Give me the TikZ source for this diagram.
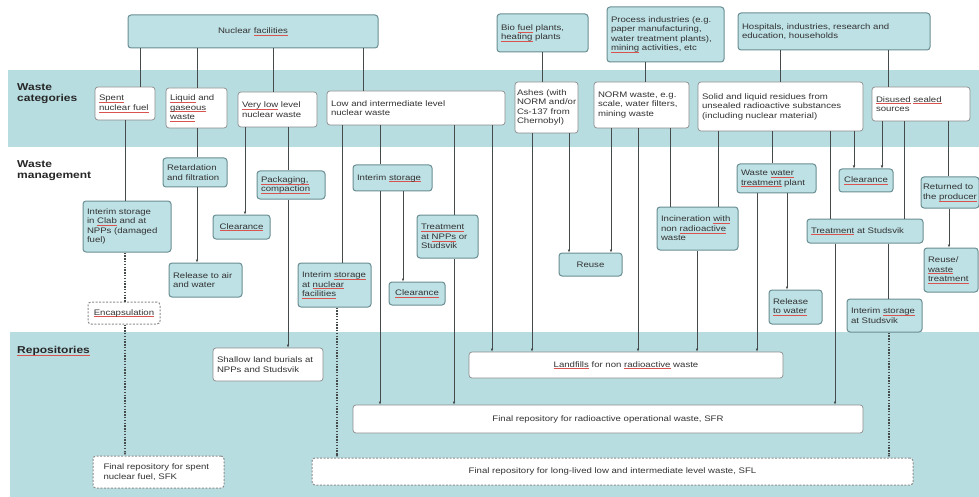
\documentclass[tikz,border=0pt]{standalone}
\usepackage{fontspec}
\setmainfont[FakeStretch=1.2]{Liberation Sans}
\usetikzlibrary{arrows.meta}
\definecolor{band}{HTML}{B8DDE1}
\definecolor{tealbox}{HTML}{BEE1E5}
\definecolor{tealedge}{HTML}{6A8E93}
\definecolor{greyedge}{HTML}{8C8C8C}
\definecolor{linec}{HTML}{454A4B}
\definecolor{txt}{HTML}{333333}
\definecolor{spell}{HTML}{D9534F}
\newsavebox\splbox
\newcommand\spl[1]{\sbox\splbox{#1}\leavevmode\rlap{\textcolor{spell}{\rule[-0.4ex]{\wd\splbox}{0.35pt}}}\usebox\splbox}
\newcommand\mybox[7]{%
 \pgfmathsetmacro\mbx{(#3+#5)/2}%
 \pgfmathsetmacro\mby{(#4+#6)/2}%
 \pgfmathsetmacro\mbw{#5-#3}%
 \pgfmathsetmacro\mbh{#6-#4}%
 \pgfmathsetmacro\mbt{#5-#3-8}%
 \node[minimum width=\mbw pt, minimum height=\mbh pt, text width=\mbt pt, #1] (#2) at (\mbx,\mby) {#7};}
\newcommand\vc[4]{\draw[#1] (#2.south -| #4,0) -- (#3.north -| #4,0);}
\tikzset{
 tbox/.style={draw=tealedge, fill=tealbox, line width=1pt, rounded corners=3pt, inner xsep=4pt, inner ysep=1pt, align=left, font=\fontsize{8}{9.5}\selectfont, text=txt},
 wbox/.style={tbox, draw=greyedge, fill=white, line width=0.7pt},
 dbox/.style={wbox, dash pattern=on 2pt off 1.5pt, line width=1pt},
 conn/.style={draw=linec, line width=0.75pt},
 arr/.style={conn, -{Latex[length=3pt,width=2.6pt]}},
 dotl/.style={conn, dash pattern=on 1.5pt off 1.3pt, line width=1.1pt},
 darr/.style={dotl, -{Latex[length=3pt,width=2.8pt]}},
 head/.style={font=\fontsize{10}{11.5}\selectfont\bfseries, text=black!85, align=left, anchor=north west, inner sep=0pt},
}
\begin{document}
\begin{tikzpicture}[x=1pt,y=-1pt]
\useasboundingbox (0,0) rectangle (979,497);
\fill[white] (0,0) rectangle (979,497);
\fill[band] (8,70) rectangle (979,147);
\fill[band] (10,332) rectangle (979,497);

% headings
\node[head] (hwc) at (17,83) {Waste\\categories};
\node[head] (hwm) at (17,160) {Waste\\management};
\node[head] (hrep) at (17,346) {\spl{Repositories}};

% sources
\mybox{tbox, align=center}{nf}{128}{15}{378}{48}{Nuclear \spl{facilities}}
\mybox{tbox}{bio}{497}{14}{588}{52}{Bio \spl{fuel} plants,\\\spl{heating} plants}
\mybox{tbox}{proc}{607}{7}{724}{62}{Process industries (e.g.\\paper manufacturing,\\water treatment plants),\\\spl{mining} activities, etc}
\mybox{tbox}{hosp}{738}{13}{930}{50}{Hospitals, industries, research and\\education, households}

% waste categories
\mybox{wbox}{snf}{95}{87}{155}{120}{\spl{Spent}\\\spl{nuclear fuel}}
\mybox{wbox}{lgw}{166}{88}{227}{128}{\spl{Liquid} and\\\spl{gaseous}\\\spl{waste}}
\mybox{wbox}{vll}{238}{92}{317}{127}{\spl{Very low} level\\nuclear waste}
\mybox{wbox}{lil}{327}{91}{505}{125}{Low and intermediate level\\nuclear waste}
\mybox{wbox, inner xsep=2pt, text width=59pt}{ash}{515}{82}{578}{133}{Ashes (with\\\mbox{NORM and/or}\\Cs-137 from\\Chernobyl)}
\mybox{wbox}{norm}{594}{82}{689}{128}{NORM waste, e.g.\\scale, water filters,\\mining waste}
\mybox{wbox}{sol}{698}{82}{863}{131}{Solid and liquid residues from\\unsealed radioactive substances\\(including nuclear material)}
\mybox{wbox}{dis}{872}{87}{970}{121}{\spl{Disused} \spl{sealed}\\sources}

% waste management
\mybox{tbox}{ret}{163}{158}{227}{187}{Retardation\\and filtration}
\mybox{tbox}{clab}{83}{201}{171}{252}{Interim storage\\in \spl{Clab} and at\\NPPs (damaged\\fuel)}
\mybox{tbox, align=center}{clr1}{213}{215}{270}{239}{\spl{Clearance}}
\mybox{tbox}{pack}{257}{171}{325}{199}{\spl{Packaging,}\\\spl{compaction}}
\mybox{tbox}{rel1}{169}{263}{242}{297}{Release to air\\and water}
\mybox{dbox, align=center}{enc}{88}{302}{160}{324}{\spl{Encapsulation}}
\mybox{tbox}{isn}{298}{263}{371}{307}{Interim \spl{storage}\\at \spl{nuclear}\\\spl{facilities}}
\mybox{tbox}{ist}{353}{165}{432}{191}{Interim \spl{storage}}
\mybox{tbox}{tnpp}{417}{215}{478}{258}{\spl{Treatment}\\at \spl{NPPs} or\\Studsvik}
\mybox{tbox, align=center}{clr2}{389}{282}{445}{305}{\spl{Clearance}}
\mybox{tbox, align=center}{reuse}{559}{253}{622}{276}{Reuse}
\mybox{tbox}{wwtp}{737}{164}{816}{193}{Waste \spl{water}\\\spl{treatment} plant}
\mybox{tbox, align=center}{clr3}{839}{169}{893}{192}{\spl{Clearance}}
\mybox{tbox, inner xsep=2pt, text width=54pt}{ret2}{922}{177}{978}{208}{Returned to\\the \spl{producer}}
\mybox{tbox}{inc}{657}{207}{738}{250}{Incineration \spl{with}\\non \spl{radioactive}\\waste}
\mybox{tbox}{tst}{807}{219}{923}{243}{\spl{Treatment} at Studsvik}
\mybox{tbox}{rwt}{924}{248}{978}{292}{Reuse/\\\spl{waste}\\\spl{treatment}}
\mybox{tbox, inner xsep=3pt}{rlw}{769}{290}{822}{324}{Release\\\spl{to water}}
\mybox{tbox}{isst}{847}{299}{922}{332}{Interim \spl{storage}\\at Studsvik}

% repositories
\mybox{wbox}{slb}{213}{348}{323}{381}{Shallow land burials at\\NPPs and Studsvik}
\mybox{wbox, align=center}{land}{469}{352}{783}{378}{\spl{Landfills} for non \spl{radioactive} waste}
\mybox{wbox, align=center}{sfr}{353}{405}{863}{433}{Final repository for radioactive operational waste, SFR}
\mybox{dbox, text width=110pt}{sfk}{93}{456}{224}{488}{Final repository for spent\\nuclear fuel, SFK}
\mybox{dbox, align=center}{sfl}{312}{458}{913}{485}{Final repository for long-lived low and intermediate level waste, SFL}

% connectors
\vc{conn}{nf}{snf}{140}
\vc{conn}{nf}{lgw}{197}
\vc{conn}{nf}{vll}{273}
\vc{conn}{nf}{lil}{363}
\vc{conn}{bio}{ash}{542}
\vc{conn}{proc}{norm}{645}
\vc{conn}{hosp}{sol}{780}
\vc{conn}{hosp}{dis}{888}

\vc{conn}{snf}{clab}{125}
\vc{dotl}{clab}{enc}{125}
\vc{darr}{enc}{sfk}{125}
\vc{conn}{lgw}{ret}{197}
\vc{arr}{ret}{rel1}{197}
\vc{arr}{vll}{clr1}{245}
\vc{conn}{vll}{pack}{288}
\vc{arr}{pack}{slb}{288}
\vc{conn}{lil}{isn}{342}
\vc{darr}{isn}{sfl}{337}
\vc{conn}{lil}{ist}{380}
\vc{arr}{ist}{sfr}{380}
\vc{arr}{ist}{clr2}{403}
\vc{conn}{lil}{tnpp}{454}
\vc{arr}{tnpp}{sfr}{454}
\vc{arr}{lil}{land}{492}
\vc{arr}{ash}{land}{532}
\vc{arr}{ash}{reuse}{569}
\vc{arr}{norm}{reuse}{611}
\vc{arr}{norm}{land}{638}
\vc{conn}{norm}{inc}{670}
\vc{conn}{sol}{inc}{718}
\vc{arr}{inc}{land}{697}
\vc{conn}{sol}{wwtp}{772}
\vc{arr}{wwtp}{land}{757}
\vc{arr}{wwtp}{rlw}{787}
\vc{conn}{sol}{tst}{830}
\vc{arr}{sol}{clr3}{854}
\vc{arr}{dis}{clr3}{882}
\vc{conn}{dis}{tst}{904}
\vc{conn}{dis}{ret2}{948}
\vc{arr}{ret2}{rwt}{949}
\vc{arr}{tst}{sfr}{835}
\vc{conn}{tst}{isst}{888}
\vc{darr}{isst}{sfl}{889}
\end{tikzpicture}
\end{document}
